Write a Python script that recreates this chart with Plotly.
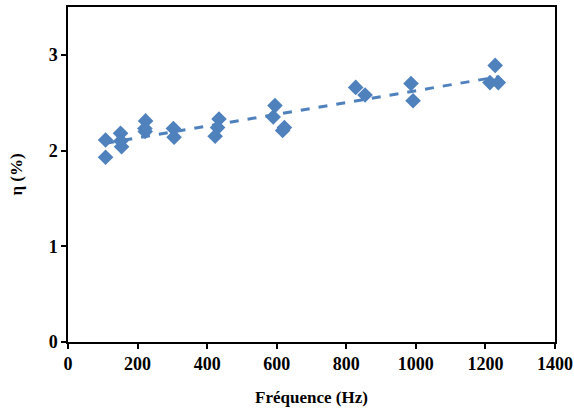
import numpy as np
import plotly.graph_objects as go

freq = [108, 108, 151, 154, 152, 223, 221, 222, 303, 305, 423, 434, 430,
        595, 590, 617, 622, 827, 854, 986, 992, 1228, 1213, 1237]
eta = [2.11, 1.93, 2.18, 2.04, 2.10, 2.31, 2.23, 2.20, 2.23, 2.14, 2.15, 2.33, 2.24,
       2.47, 2.35, 2.21, 2.24, 2.66, 2.58, 2.70, 2.52, 2.89, 2.71, 2.71]
x_ticks = [0, 200, 400, 600, 800, 1000, 1200, 1400]
y_ticks = [0, 1, 2, 3]

color = "#4F81BD"
font = "Liberation Serif, Times New Roman, serif"

slope, intercept = np.polyfit(freq, eta, 1)
tx = [min(freq), max(freq)]
ty = [slope * v + intercept for v in tx]

fig = go.Figure()
fig.add_trace(go.Scatter(x=tx, y=ty, mode="lines",
                         line=dict(color=color, width=3, dash="dash"),
                         hoverinfo="skip", showlegend=False))
fig.add_trace(go.Scatter(x=freq, y=eta, mode="markers",
                         marker=dict(symbol="diamond", size=12, color=color),
                         showlegend=False))

fig.update_layout(
    width=574, height=412,
    margin=dict(l=68, r=19, t=7, b=70),
    paper_bgcolor="white", plot_bgcolor="white",
    font=dict(family=font, size=16, color="black"),
)
fig.update_xaxes(
    range=[0, 1400], tickvals=x_ticks, ticks="outside", ticklen=5,
    tickwidth=1.5, tickcolor="black", showline=True, linecolor="black",
    linewidth=1.5, mirror=True, showgrid=False, zeroline=False,
    automargin=False,
    tickfont=dict(family=font, size=18, color="black", weight="bold"),
    title=dict(text="<b>Fréquence (Hz)</b>", standoff=18,
               font=dict(family=font, size=17, color="black")),
)
fig.update_yaxes(
    range=[0, 3.5], tickvals=y_ticks, ticks="outside", ticklen=5,
    tickwidth=1.5, tickcolor="black", showline=True, linecolor="black",
    linewidth=1.5, mirror=True, showgrid=False, zeroline=False,
    automargin=False,
    tickfont=dict(family=font, size=18, color="black", weight="bold"),
    title=dict(text="<b>η (%)</b>", standoff=22,
               font=dict(family=font, size=17, color="black")),
)

fig.write_html("out.html", config={"displayModeBar": False})

with open("out.html", encoding="utf-8") as f:
    html = f.read()
html = html.replace("<body>", '<body style="margin:0;padding:0;overflow:hidden">', 1)
with open("out.html", "w", encoding="utf-8") as f:
    f.write(html)
